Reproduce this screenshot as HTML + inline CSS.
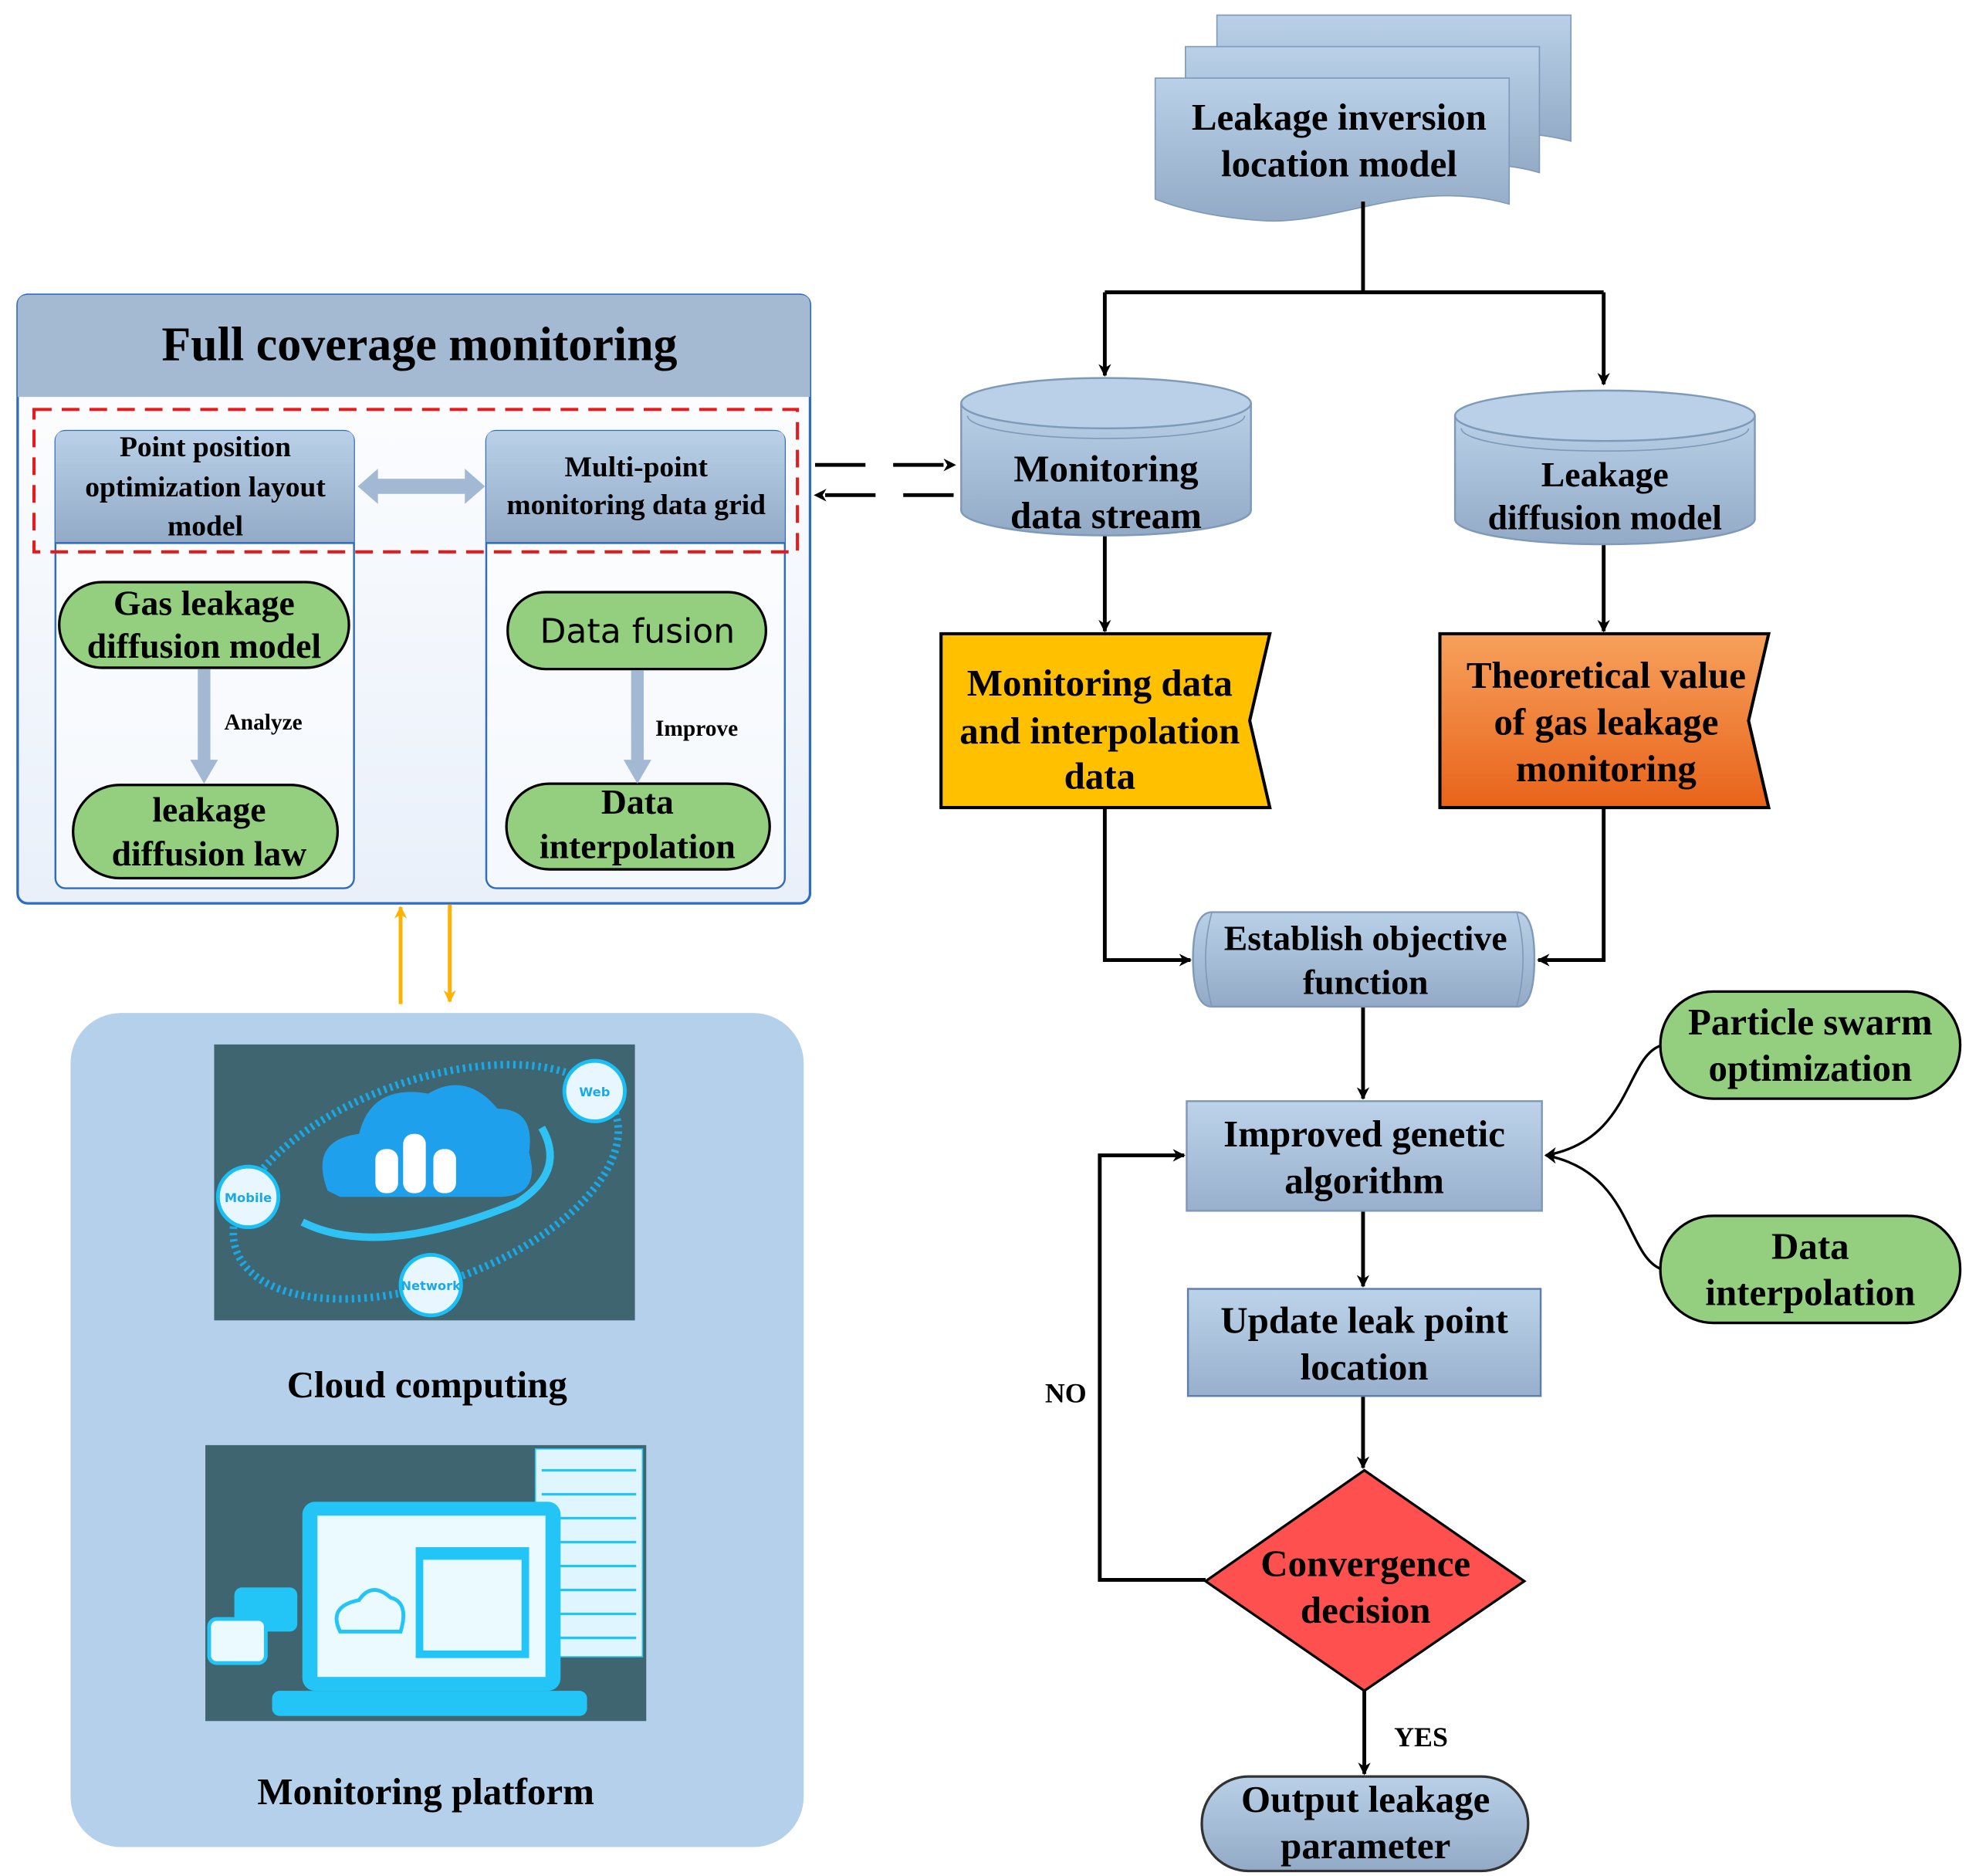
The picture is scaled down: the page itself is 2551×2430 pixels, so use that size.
<!DOCTYPE html>
<html><head><meta charset="utf-8"><style>html,body{margin:0;padding:0;background:#fff}svg{display:block}</style></head>
<body>
<svg width="2551" height="2430" viewBox="0 0 1563 1489" preserveAspectRatio="none" xmlns="http://www.w3.org/2000/svg" font-family="'Liberation Serif',serif" font-weight="bold">
<defs>
<linearGradient id="bl" x1="0" y1="0" x2="0" y2="1"><stop offset="0" stop-color="#b9d0e8"/><stop offset="1" stop-color="#93aac6"/></linearGradient>
<linearGradient id="bl2" x1="0" y1="0" x2="0" y2="1"><stop offset="0" stop-color="#bcd3ea"/><stop offset="1" stop-color="#98b0cc"/></linearGradient>
<linearGradient id="or" x1="0" y1="0" x2="0" y2="1"><stop offset="0" stop-color="#f6a15c"/><stop offset="1" stop-color="#e9631a"/></linearGradient>
<linearGradient id="wb" x1="0" y1="0" x2="0" y2="1"><stop offset="0" stop-color="#ffffff"/><stop offset="1" stop-color="#e9f0fa"/></linearGradient>
<marker id="a" markerWidth="10" markerHeight="10" refX="9" refY="5" orient="auto" markerUnits="userSpaceOnUse"><path d="M0,0 L10,5 L0,10 L3,5z" fill="#000"/></marker>
<marker id="ao" markerWidth="10" markerHeight="10" refX="9" refY="5" orient="auto" markerUnits="userSpaceOnUse"><path d="M0,0 L10,5 L0,10 L3,5z" fill="#ffb300"/></marker>
</defs>
<rect width="1563" height="1489" fill="#fff"/>

<!-- document stack -->
<path d="M966,12 H1247 V112 C1200,100 1180,110 1160,115 H966Z" fill="url(#bl)" stroke="#7f99b8"/>
<path d="M941,37 H1222 V137 C1180,125 1160,135 1140,140 H941Z" fill="url(#bl)" stroke="#7f99b8"/>
<path d="M917,62 H1198 V162 C1120,140 1060,180 1000,175 C960,172 935,165 917,158Z" fill="url(#bl)" stroke="#7f99b8"/>
<g font-size="30" text-anchor="middle"><text x="1063" y="103">Leakage inversion</text><text x="1063" y="140">location model</text></g>

<g stroke="#000" stroke-width="3" fill="none">
<path d="M1082,160 V232 M877,232 H1273"/>
<path d="M877,232 V298" marker-end="url(#a)"/>
<path d="M1273,232 V305" marker-end="url(#a)"/>
<path d="M877,425 V501" marker-end="url(#a)"/>
<path d="M1273,432 V501" marker-end="url(#a)"/>
<path d="M877,641 V762 H945" marker-end="url(#a)"/>
<path d="M1273,641 V762 H1221" marker-end="url(#a)"/>
<path d="M1082,799 V872" marker-end="url(#a)"/>
<path d="M1082,961 V1021" marker-end="url(#a)"/>
<path d="M1082,1108 V1165" marker-end="url(#a)"/>
<path d="M957,1254 H873 V917 H940" marker-end="url(#a)"/>
<path d="M1083,1342 V1408" marker-end="url(#a)"/>
</g>
<g stroke="#000" stroke-width="2" fill="none">
<path d="M1318,830 C1290,840 1295,905 1227,917" marker-end="url(#a)"/>
<path d="M1318,1007 C1290,995 1295,930 1227,917" marker-end="url(#a)"/>
</g>

<!-- cylinders -->
<path d="M763,320 V405 A115,20 0 0 0 993,405 V320" fill="url(#bl)" stroke="#7f99b8" stroke-width="1.5"/>
<ellipse cx="878" cy="320" rx="115" ry="20" fill="#b9d0e8" stroke="#7f99b8" stroke-width="1.5"/>
<path d="M768,330 A110,18 0 0 0 988,330" fill="none" stroke="#7f99b8"/>
<g font-size="30" text-anchor="middle"><text x="878" y="382">Monitoring</text><text x="878" y="419">data stream</text></g>
<path d="M1155,330 V412 A119,20 0 0 0 1393,412 V330" fill="url(#bl)" stroke="#7f99b8" stroke-width="1.5"/>
<ellipse cx="1274" cy="330" rx="119" ry="20" fill="#b9d0e8" stroke="#7f99b8" stroke-width="1.5"/>
<path d="M1160,340 A114,18 0 0 0 1388,340" fill="none" stroke="#7f99b8"/>
<g font-size="28" text-anchor="middle"><text x="1274" y="386">Leakage</text><text x="1274" y="420">diffusion model</text></g>

<!-- flags -->
<path d="M747,503 H1008 L992,572 L1008,641 H747Z" fill="#ffc000" stroke="#000" stroke-width="2.5"/>
<g font-size="30" text-anchor="middle"><text x="873" y="552">Monitoring data</text><text x="873" y="590">and interpolation</text><text x="873" y="626">data</text></g>
<path d="M1143,503 H1404 L1388,572 L1404,641 H1143Z" fill="url(#or)" stroke="#000" stroke-width="2.5"/>
<g font-size="30" text-anchor="middle"><text x="1275" y="546">Theoretical value</text><text x="1275" y="583">of gas leakage</text><text x="1275" y="620">monitoring</text></g>

<!-- establish -->
<path d="M962,724 H1204 Q1218,724 1218,761 Q1218,799 1204,799 H962 Q947,799 947,761 Q947,724 962,724Z" fill="url(#bl)" stroke="#7f99b8" stroke-width="1.5"/>
<path d="M962,724 Q952,761 962,799 M1204,724 Q1214,761 1204,799" fill="none" stroke="#7f99b8"/>
<g font-size="28" text-anchor="middle"><text x="1084" y="754">Establish objective</text><text x="1084" y="789">function</text></g>

<rect x="942" y="874" width="282" height="87" fill="url(#bl2)" stroke="#7f99b8" stroke-width="1.5"/>
<g font-size="30" text-anchor="middle"><text x="1083" y="910">Improved genetic</text><text x="1083" y="947">algorithm</text></g>
<rect x="943" y="1023" width="280" height="85" fill="url(#bl2)" stroke="#5f7fa8" stroke-width="1.5"/>
<g font-size="30" text-anchor="middle"><text x="1083" y="1058">Update leak point</text><text x="1083" y="1095">location</text></g>

<path d="M1083,1167 L1210,1255 L1083,1342 L957,1255Z" fill="#ff5050" stroke="#000" stroke-width="2"/>
<g font-size="30" text-anchor="middle"><text x="1084" y="1251">Convergence</text><text x="1084" y="1288">decision</text></g>
<text x="846" y="1113" font-size="22" text-anchor="middle">NO</text>
<text x="1128" y="1386" font-size="22" text-anchor="middle">YES</text>

<rect x="954" y="1410" width="259" height="75" rx="37" fill="url(#bl)" stroke="#333" stroke-width="2"/>
<g font-size="30" text-anchor="middle"><text x="1084" y="1438">Output leakage</text><text x="1084" y="1475">parameter</text></g>

<rect x="1318" y="787" width="238" height="85" rx="42" fill="#93cf7e" stroke="#000" stroke-width="2"/>
<g font-size="30" text-anchor="middle"><text x="1437" y="821">Particle swarm</text><text x="1437" y="858">optimization</text></g>
<rect x="1318" y="965" width="238" height="85" rx="42" fill="#93cf7e" stroke="#000" stroke-width="2"/>
<g font-size="30" text-anchor="middle"><text x="1437" y="999">Data</text><text x="1437" y="1036">interpolation</text></g>

<!-- left panel -->
<rect x="14" y="234" width="629" height="483" rx="8" fill="url(#wb)" stroke="#2f6cc0" stroke-width="2"/>
<path d="M22,234 H635 Q643,234 643,242 V315 H14 V242 Q14,234 22,234Z" fill="#a4b9d2"/>
<text x="333" y="286" font-size="38" text-anchor="middle">Full coverage monitoring</text>
<rect x="44" y="342" width="237" height="363" rx="8" fill="#fff" fill-opacity="0.5" stroke="#2f6cc0" stroke-width="1.5"/>
<rect x="386" y="342" width="237" height="363" rx="8" fill="#fff" fill-opacity="0.5" stroke="#2f6cc0" stroke-width="1.5"/>
<path d="M52,342 H273 Q281,342 281,350 V431 H44 V350 Q44,342 52,342Z" fill="url(#bl)"/>
<path d="M394,342 H615 Q623,342 623,350 V431 H386 V350 Q386,342 394,342Z" fill="url(#bl)"/>
<line x1="44" y1="431" x2="281" y2="431" stroke="#2f6cc0" stroke-width="1.5"/>
<line x1="386" y1="431" x2="623" y2="431" stroke="#2f6cc0" stroke-width="1.5"/>
<g font-size="23" text-anchor="middle"><text x="163" y="362">Point position</text><text x="163" y="394">optimization layout</text><text x="163" y="425">model</text>
<text x="505" y="378">Multi-point</text><text x="505" y="408">monitoring data grid</text></g>
<path d="M284,386 L300,372 V380 H369 V372 L385,386 L369,400 V392 H300 V400Z" fill="#a3b8d2"/>
<rect x="27" y="325" width="606" height="113" fill="none" stroke="#e51b1b" stroke-width="2.5" stroke-dasharray="14,8"/>

<rect x="47" y="462" width="230" height="68" rx="34" fill="#93cf7e" stroke="#000" stroke-width="2"/>
<g font-size="28" text-anchor="middle"><text x="162" y="488">Gas leakage</text><text x="162" y="522">diffusion model</text></g>
<rect x="58" y="623" width="210" height="74" rx="37" fill="#93cf7e" stroke="#000" stroke-width="2"/>
<g font-size="28" text-anchor="middle"><text x="166" y="652">leakage</text><text x="166" y="687">diffusion law</text></g>
<rect x="403" y="470" width="205" height="61" rx="30" fill="#93cf7e" stroke="#000" stroke-width="2"/>
<text x="506" y="510" font-size="27" text-anchor="middle" font-family="'DejaVu Sans',sans-serif" font-weight="normal">Data fusion</text>
<rect x="402" y="622" width="209" height="68" rx="34" fill="#93cf7e" stroke="#000" stroke-width="2"/>
<g font-size="28" text-anchor="middle"><text x="506" y="646">Data</text><text x="506" y="681">interpolation</text></g>
<path d="M157,531 H167 V603 H173 L162,622 L151,603 H157Z" fill="#a3b8d2"/>
<path d="M501,532 H511 V603 H517 L506,622 L495,603 H501Z" fill="#a3b8d2"/>
<text x="209" y="579" font-size="18" text-anchor="middle">Analyze</text>
<text x="553" y="584" font-size="18" text-anchor="middle">Improve</text>

<g stroke="#000" stroke-width="3" fill="none" stroke-dasharray="40,22">
<path d="M647,369 H758" marker-end="url(#a)"/>
<path d="M757,393 H647" marker-end="url(#a)"/>
</g>
<g stroke="#ffb300" stroke-width="3" fill="none">
<path d="M318,797 V720" marker-end="url(#ao)"/>
<path d="M357,718 V795" marker-end="url(#ao)"/>
</g>

<!-- cloud panel -->
<rect x="56" y="804" width="582" height="662" rx="40" fill="#b5d0ea"/>
<rect x="170" y="829" width="334" height="219" fill="#3e6570"/>
<ellipse cx="338" cy="938" rx="160" ry="80" transform="rotate(-20 338 938)" fill="none" stroke="#1aa9e6" stroke-width="6" stroke-dasharray="2,3"/>
<path d="M260,945 Q245,905 285,900 Q295,860 340,868 Q370,850 395,880 Q425,880 420,915 Q430,950 395,950 H270Z" fill="#1ea0ec"/>
<path d="M240,970 Q300,1000 410,955 Q450,930 430,895" fill="none" stroke="#2fc3f5" stroke-width="6"/>
<rect x="298" y="912" width="18" height="35" rx="8" fill="#fff"/><rect x="320" y="900" width="18" height="47" rx="8" fill="#fff"/><rect x="344" y="912" width="18" height="35" rx="8" fill="#fff"/>
<circle cx="472" cy="866" r="24" fill="#e8f7ff" stroke="#1ac0f5" stroke-width="3"/>
<circle cx="197" cy="950" r="24" fill="#e8f7ff" stroke="#1ac0f5" stroke-width="3"/>
<circle cx="342" cy="1020" r="24" fill="#e8f7ff" stroke="#1ac0f5" stroke-width="3"/>
<g font-family="'DejaVu Sans',sans-serif" font-size="10" fill="#1aa9e6" text-anchor="middle"><text x="472" y="870">Web</text><text x="197" y="954">Mobile</text><text x="342" y="1024">Network</text></g>
<text x="339" y="1109" font-size="30" text-anchor="middle">Cloud computing</text>

<rect x="163" y="1147" width="350" height="219" fill="#3e6570"/>
<rect x="425" y="1150" width="85" height="165" fill="#dff5ff" stroke="#22c5f5"/>
<g stroke="#22c5f5" stroke-width="2"><line x1="430" y1="1167" x2="505" y2="1167"/><line x1="430" y1="1186" x2="505" y2="1186"/><line x1="430" y1="1205" x2="505" y2="1205"/><line x1="430" y1="1224" x2="505" y2="1224"/><line x1="430" y1="1243" x2="505" y2="1243"/><line x1="430" y1="1262" x2="505" y2="1262"/><line x1="430" y1="1281" x2="505" y2="1281"/><line x1="430" y1="1300" x2="505" y2="1300"/></g>
<rect x="240" y="1192" width="205" height="150" rx="10" fill="#22c5f5"/>
<rect x="252" y="1203" width="181" height="128" fill="#eafaff"/>
<rect x="330" y="1228" width="90" height="88" fill="#22c5f5"/><rect x="336" y="1238" width="78" height="72" fill="#eafaff"/>
<path d="M270,1295 Q260,1275 285,1270 Q295,1255 310,1268 Q325,1272 318,1295Z" fill="none" stroke="#22c5f5" stroke-width="3"/>
<rect x="216" y="1342" width="250" height="20" rx="6" fill="#22c5f5"/>
<rect x="186" y="1260" width="50" height="35" rx="6" fill="#22c5f5"/><rect x="166" y="1285" width="45" height="35" rx="6" fill="#eafaff" stroke="#22c5f5" stroke-width="3"/>
<text x="338" y="1432" font-size="30" text-anchor="middle">Monitoring platform</text>
</svg>
</body></html>
